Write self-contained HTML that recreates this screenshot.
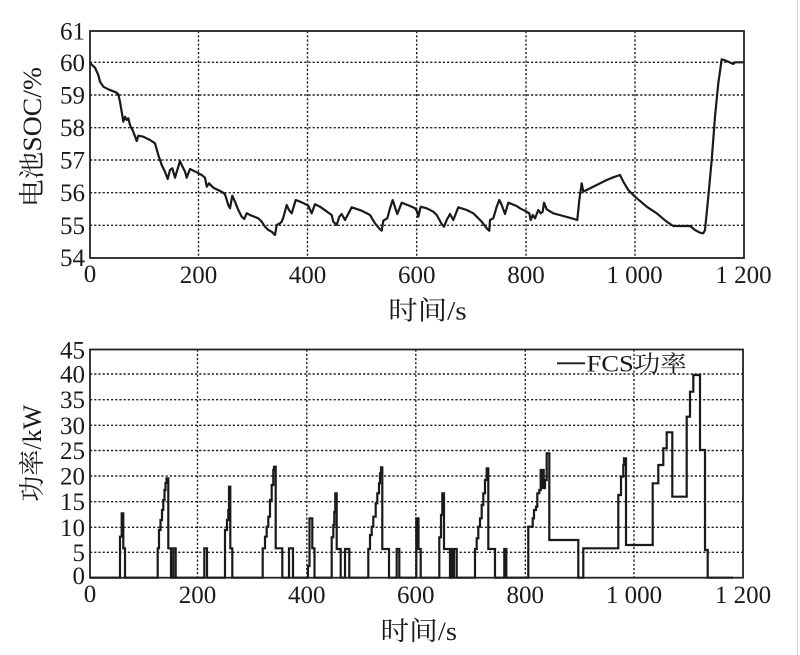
<!DOCTYPE html>
<html>
<head>
<meta charset="utf-8">
<style>
html,body{margin:0;padding:0;background:#fff;}
svg{display:block;}
text{font-family:"Liberation Serif","Noto Serif CJK SC","Noto Sans CJK SC",serif;fill:#1a1a1a;}
</style>
</head>
<body>
<svg width="800" height="655" viewBox="0 0 800 655" xmlns="http://www.w3.org/2000/svg">
<rect x="0" y="0" width="800" height="655" fill="#fff"/>
<line x1="797.5" y1="0" x2="797.5" y2="655" stroke="#d0d0d0" stroke-width="1"/>

<!-- ===== TOP CHART ===== -->
<g stroke="#222" stroke-width="1.4" stroke-dasharray="2.2,2" fill="none">
  <line x1="90" y1="62.3" x2="744" y2="62.3"/>
  <line x1="90" y1="95" x2="744" y2="95"/>
  <line x1="90" y1="127.7" x2="744" y2="127.7"/>
  <line x1="90" y1="160" x2="744" y2="160"/>
  <line x1="90" y1="192.7" x2="744" y2="192.7"/>
  <line x1="90" y1="225.3" x2="744" y2="225.3"/>
  <line x1="198.5" y1="31" x2="198.5" y2="258"/>
  <line x1="307.5" y1="31" x2="307.5" y2="258"/>
  <line x1="416.7" y1="31" x2="416.7" y2="258"/>
  <line x1="526" y1="31" x2="526" y2="258"/>
  <line x1="635" y1="31" x2="635" y2="258"/>
</g>
<rect x="90" y="31" width="654" height="227" fill="none" stroke="#222" stroke-width="1.8"/>

<polyline fill="none" stroke="#1a1a1a" stroke-width="2.2" stroke-linejoin="round" points="
90,63 95,67.7 98.3,75 100,81.7 103.3,86.7 108.3,89.3 116.7,92.7 118.3,94.3 120,101.7 121.7,111.7 123.3,121.7 125,116.7 126.7,120 128.3,118.3 130,125 133.3,131.7 136.7,141 138.3,135.7 143.3,136.7 150,140 155,143.3 158.3,155 161.7,165 165,171.7 167.7,179 170,170 172.3,168.3 175,177.7 180,161 181.7,165 185,171.7 186.7,177.7 190,169 196.7,172.3 201.7,175 205,177.7 206.7,186.7 209,183.3 213.3,187.7 221.7,191.7 225,194.3 228.3,205 230,208.3 232.3,195.7 235,201.7 238.3,210 241.7,216.7 244.3,219 246.7,213.3 251.7,215.7 258.3,218.3 261.7,221.7 265,226.7 268.3,230 271.7,231.7 275,235 276.7,225 280,223.3 281.7,221.7 283.3,217.7 286.7,205 289,210 291.7,213.3 295.7,200 301.7,202.3 308.3,205.7 311.7,213.3 315,204.3
320,206.7 331.7,215 333.3,221.7 336.7,225 339.3,216.7 341.7,214 345,220 351.7,207.3 361.7,210.7 370,215 375,223.3 380,229.3 381.7,230.7 383.3,220.7 387.3,218.3 390,208.3 392.7,200 395,207.3 397.3,214 401.7,202.7 410,206 415,208.3 417.3,211.7 418.3,216.7 420.7,206.7 426.7,208.3 433.3,211.7 436.7,215 441.7,224 444,226.7 446.7,220 450,214 453.3,220 458.3,207.3 466.7,210 473.3,213.3 476.7,216.7 481.7,221.7 486.7,228.3 489.3,230.7 490,220 493.3,218.3 496.7,206.7 499.3,200 501.7,205 505,214 508.3,202.7 516.7,206 520,208.3
526.7,211.7 529.3,213.3 530.7,220 532.7,215 535,218.3 538.3,210 540.7,213.3 542.7,211.7 544,202.7 546.7,209.3 553.3,213.3 563.3,216 571.7,218.3 577.3,220 579.3,200 581.7,183.3 583.3,191.7 586.7,190 596.7,185 606.7,180 613.3,177.3 620,175 623.3,181.7 628.3,190 635,196.7 646.7,206.7 656.7,213.3 666.7,221.7 673.3,226 690,226 695,230 700,232.7 703.3,233.3 705,230 708.3,196.7 711.7,160 715,116.7 718.3,83.3 721.7,59.3 724,60 728.3,61.7 733.3,64 735,62.3 743.3,62.3"/>

<!-- top y tick labels -->
<g font-size="25" text-anchor="end">
  <text x="85" y="39.5">61</text>
  <text x="85" y="70.8">60</text>
  <text x="85" y="103.5">59</text>
  <text x="85" y="136.2">58</text>
  <text x="85" y="168.5">57</text>
  <text x="85" y="201.2">56</text>
  <text x="85" y="233.8">55</text>
  <text x="85" y="266">54</text>
</g>
<!-- top x tick labels -->
<g font-size="25" text-anchor="middle">
  <text x="90" y="282">0</text>
  <text x="198.5" y="283">200</text>
  <text x="307.5" y="283">400</text>
  <text x="416.7" y="283">600</text>
  <text x="526" y="283">800</text>
  <text x="634.5" y="283">1 000</text>
  <text x="743.5" y="283">1 200</text>
</g>
<text x="388.3" y="319.5" font-size="26" textLength="78.4" lengthAdjust="spacingAndGlyphs">时间/s</text>
<text transform="translate(41,137) rotate(-90)" font-size="26" text-anchor="middle" textLength="140" lengthAdjust="spacingAndGlyphs">电池SOC/%</text>

<!-- ===== BOTTOM CHART ===== -->
<g stroke="#222" stroke-width="1.4" stroke-dasharray="2.2,2" fill="none">
  <line x1="90" y1="374" x2="743" y2="374"/>
  <line x1="90" y1="399.7" x2="743" y2="399.7"/>
  <line x1="90" y1="425.3" x2="743" y2="425.3"/>
  <line x1="90" y1="450.5" x2="743" y2="450.5"/>
  <line x1="90" y1="476" x2="743" y2="476"/>
  <line x1="90" y1="501.7" x2="743" y2="501.7"/>
  <line x1="90" y1="527.3" x2="743" y2="527.3"/>
  <line x1="90" y1="552.3" x2="743" y2="552.3"/>
  <line x1="197.5" y1="349.5" x2="197.5" y2="577.7"/>
  <line x1="306.8" y1="349.5" x2="306.8" y2="577.7"/>
  <line x1="415.8" y1="349.5" x2="415.8" y2="577.7"/>
  <line x1="525.3" y1="349.5" x2="525.3" y2="577.7"/>
  <line x1="634" y1="349.5" x2="634" y2="577.7"/>
</g>
<rect x="90" y="349.5" width="653" height="228.2" fill="none" stroke="#222" stroke-width="1.8"/>

<path fill="none" stroke="#1a1a1a" stroke-width="2.2" stroke-linejoin="miter" d="
M90,577.7 H120 V536.7 H121.7 V513.3 H123.3 V548.3 H125 V577.7
H157.7 V548.3 H159 V530 H160.5 V520 H162 V510 H163.3 V500 H164.5 V490 H165.5 V483 H166.5 V478.3 H168.3 V548.3 H171 V577.7 H173.3 V548.3 H175.7 V577.7
H204.3 V548.3 H207 V577.7
H225 V530 H227 V520 H228.3 V510 H229 V486.7 H230.3 V548.3 H232.3 V577.7
H262.7 V548.3 H265 V536.7 H266.7 V526.7 H268.3 V516.7 H270 V500 H271.7 V485 H273.3 V470 H274 V466.7 H275.7 V548.3 H282.3 V577.7 H289 V548.3 H293 V577.7
H308 V566 H309.5 V518.3 H312.3 V548.3 H314.5 V577.7
H331.7 V537.3 H333.3 V525 H334.3 V512 H335.3 V493.3 H336.7 V549 H340.7 V577.7 H345 V549 H349.3 V577.7
H368.3 V549 H370 V535 H371.7 V526.7 H373.3 V516.7 H375.7 V503.3 H377.3 V493.3 H379 V483.3 H380 V473.3 H381 V467.3 H382.3 V549 H389 V577.7 H396.7 V549 H399.3 V577.7
H416.3 V518.3 H418.5 V549 H420.7 V577.7
H439.3 V537.3 H441 V515 H442.3 V493.3 H444 V549 H450 V577.7 H451 V549 H452.5 V577.7 H454 V549 H456.7 V577.7
H475 V549 H476.7 V538.3 H478.3 V526.7 H480 V518.3 H481.7 V505 H483.3 V493.3 H485 V480 H486.7 V468.3 H488.3 V549 H495 V577.7 H504.3 V549 H506.3 V577.7
H528.3 V526.7 H532.7 V518.3 H534 V510 H536 V506.7 H537.3 V493.3 H539.3 V490 H540.7 V470 H541.7 V488 H542.7 V470 H543.7 V488 H545 V480 H546.7 V453.3 H549.3 V540 H578.3 V577.7 H583.3 V548.3 H618.3 V495 H621 V476.7 H623.3 V465 H624 V458.3 H626 V545 H652.7 V483.3 H658.3 V465 H663.3 V448.3 H666.7 V432.3 H672.3 V496.7 H686.7 V416.7 H690 V391.7 H693.3 V375 H700 V450 H705 V550 H707.7 V577.7 H733"/>

<!-- legend -->
<line x1="557" y1="363.3" x2="585" y2="363.3" stroke="#1a1a1a" stroke-width="1.8"/>
<text x="586.7" y="371.5" font-size="23" textLength="100" lengthAdjust="spacingAndGlyphs">FCS功率</text>

<!-- bottom y tick labels -->
<g font-size="25" text-anchor="end">
  <text x="85" y="358.3">45</text>
  <text x="85" y="382.5">40</text>
  <text x="85" y="408.2">35</text>
  <text x="85" y="433.8">30</text>
  <text x="85" y="459">25</text>
  <text x="85" y="484.5">20</text>
  <text x="85" y="510.2">15</text>
  <text x="85" y="535.8">10</text>
  <text x="85" y="560.8">5</text>
  <text x="85" y="584">0</text>
</g>
<!-- bottom x tick labels -->
<g font-size="25" text-anchor="middle">
  <text x="90" y="602">0</text>
  <text x="197.5" y="603">200</text>
  <text x="306.8" y="603">400</text>
  <text x="415.8" y="603">600</text>
  <text x="525.3" y="603">800</text>
  <text x="634" y="603">1 000</text>
  <text x="743" y="603">1 200</text>
</g>
<text x="380.5" y="640" font-size="26" textLength="76.5" lengthAdjust="spacingAndGlyphs">时间/s</text>
<text transform="translate(41,453.3) rotate(-90)" font-size="26" text-anchor="middle" textLength="97" lengthAdjust="spacingAndGlyphs">功率/kW</text>
</svg>
</body>
</html>
